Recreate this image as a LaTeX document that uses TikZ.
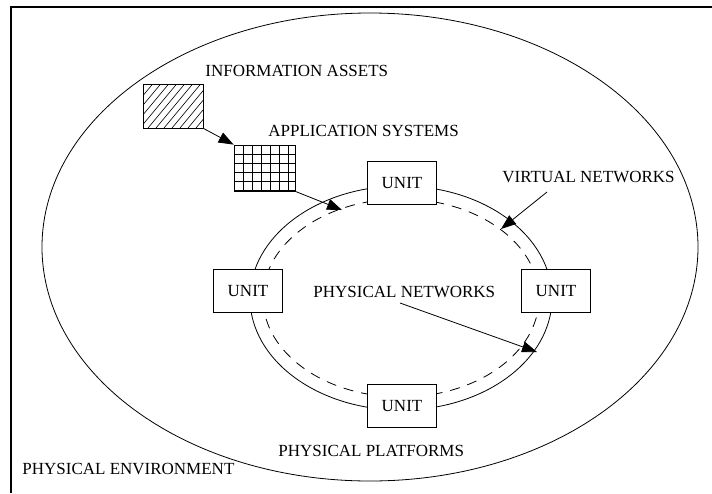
\documentclass[tikz,border=0pt]{standalone}
\usepackage{fontspec}
\setmainfont{Liberation Serif}
\usetikzlibrary{arrows.meta}
\begin{document}
\begin{tikzpicture}[x=1pt,y=-1pt,
  line width=0.8pt,
  unitbox/.style={draw,fill=white,minimum width=69pt,minimum height=43pt,inner sep=0pt,font=\fontsize{17}{20}\selectfont},
  lbl/.style={anchor=west,inner sep=0pt,font=\fontsize{17}{20}\selectfont},
  arr/.style={-{Triangle[length=15pt,width=11pt]},line width=0.8pt},
  dashring/.style={dash pattern=on 10pt off 8pt}
]
\useasboundingbox (0,0) rectangle (712,493);
% frame
\draw[line width=1.1pt] (11,493) -- (11,7) -- (712,7);
% outer ellipse
\draw (370,247) ellipse [x radius=328pt, y radius=234pt];
% inner ellipses
\draw (401,298) ellipse [x radius=151pt, y radius=112pt];
\draw[dashring] (401,298) ellipse [x radius=138pt, y radius=99pt];
% unit boxes
\node[unitbox] (utop) at (402,183) {UNIT};
\node[unitbox] (uleft) at (248,291) {UNIT};
\node[unitbox] (uright) at (556,291) {UNIT};
\node[unitbox] (ubot) at (402,406) {UNIT};
% information assets hatched box
\node[draw,minimum width=60pt,minimum height=44pt,inner sep=0pt] (info) at (173,106) {};
\begin{scope}
\clip (143,84) rectangle (203,128);
\foreach \i in {0,...,14} {
  \draw[line width=0.6pt] (100+\i*8,128) -- ++(40,-48);
}
\end{scope}
\draw (143,84) rectangle (203,128);
% application systems grid box
\node[draw,minimum width=61pt,minimum height=46pt,inner sep=0pt] (app) at (264.5,168) {};
\foreach \x in {243,252,261,270,279,288} \draw[line width=0.6pt] (\x,145) -- (\x,191);
\foreach \y in {154,163,172,181,190} \draw[line width=0.6pt] (234,\y) -- (295,\y);
\draw (234,145) rectangle (295,191);
% labels
\node[lbl] (linfo) at (205,71) {INFORMATION ASSETS};
\node[lbl] (lapp) at (268,131) {APPLICATION SYSTEMS};
\node[lbl] (lvirt) at (502,177) {VIRTUAL NETWORKS};
\node[lbl] (lphysnet) at (313,292) {PHYSICAL NETWORKS};
\node[lbl] (lplat) at (278,451) {PHYSICAL PLATFORMS};
\node[lbl] (lenv) at (22,469) {PHYSICAL ENVIRONMENT};
% arrow endpoints
\coordinate (tipapp) at (342,210);
\coordinate (tipvirt) at (501,229);
\coordinate (tipphys) at (537,352);
\coordinate (svirt) at (547,192);
\coordinate (sphys) at (400,303);
% arrows
\draw[arr] (info.south east) -- (app.north west);
\draw[arr] (app.south east) -- (tipapp);
\draw[arr] (svirt) -- (tipvirt);
\draw[arr] (sphys) -- (tipphys);
\end{tikzpicture}
\end{document}
